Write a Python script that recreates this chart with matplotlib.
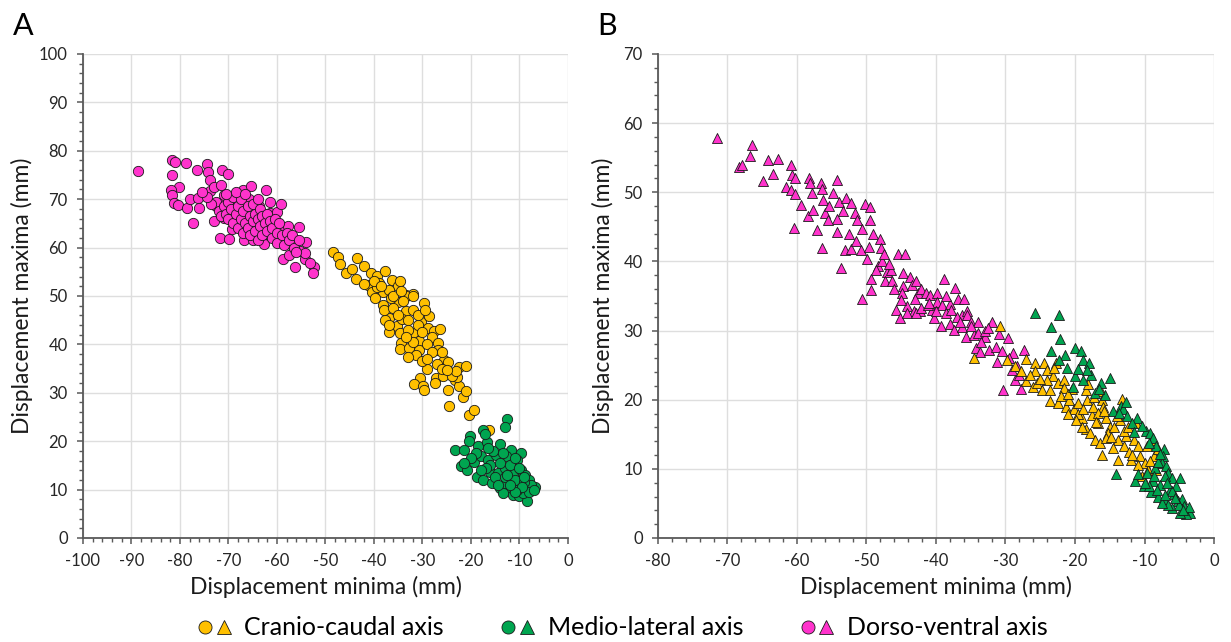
import numpy as np
import matplotlib.pyplot as plt
from matplotlib.lines import Line2D
from matplotlib.legend_handler import HandlerTuple
from matplotlib.ticker import MultipleLocator

plt.rcParams['font.family'] = ['Lato', 'DejaVu Sans']
plt.rcParams['axes.unicode_minus'] = False

# colours (Excel-like)
c_cc = '#FFC000'   # cranio-caudal
c_ml = '#00A550'   # medio-lateral
c_dv = '#FF33CC'   # dorso-ventral

legend_labels = ['Cranio-caudal axis', 'Medio-lateral axis', 'Dorso-ventral axis']

# ---- Panel A: circles [minima, maxima] ----
dv_a = np.array([
    [-88.6, 75.8], [-81.7, 78.1], [-81.0, 77.7], [-78.7, 77.4], [-81.7, 74.9], [-76.5, 76.0],
    [-74.5, 77.2], [-74.2, 75.7], [-71.4, 76.0], [-70.0, 75.2], [-73.9, 74.0], [-80.1, 72.5],
    [-81.8, 71.8], [-81.7, 70.9], [-81.3, 69.3], [-80.4, 68.7], [-78.5, 68.1], [-78.0, 70.0],
    [-76.3, 70.2], [-76.1, 68.1], [-77.3, 65.0], [-73.9, 71.6], [-72.6, 68.6], [-73.0, 65.5],
    [-71.8, 69.3], [-71.7, 62.0], [-69.8, 61.8], [-71.0, 70.9], [-70.9, 66.1], [-69.4, 67.1],
    [-69.2, 63.9], [-68.2, 69.2], [-67.1, 71.9], [-66.6, 66.1], [-66.9, 61.6], [-65.8, 70.0],
    [-65.4, 72.7], [-65.0, 61.6], [-64.1, 64.2], [-63.8, 68.5], [-62.7, 60.8], [-62.3, 71.9],
    [-62.1, 62.9], [-61.5, 67.2], [-60.7, 65.0], [-60.0, 67.3], [-59.1, 69.1], [-59.5, 64.9],
    [-58.7, 64.3], [-58.3, 62.2], [-57.7, 64.4], [-58.7, 57.6], [-57.1, 60.8], [-57.5, 58.4],
    [-56.3, 56.0], [-55.4, 64.3], [-55.3, 59.2], [-54.2, 57.7], [-54.1, 61.2], [-54.2, 58.8],
    [-52.3, 56.0], [-52.6, 54.8], [-53.2, 56.8],
    [-72.5, 69.5], [-72.0, 67.5], [-71.5, 66.5], [-71.0, 68.5], [-70.5, 67.0], [-70.0, 69.5],
    [-70.0, 66.0], [-69.5, 68.0], [-69.0, 70.5], [-69.0, 65.0], [-68.5, 67.0], [-68.0, 68.5],
    [-68.0, 64.0], [-67.5, 66.0], [-67.5, 70.0], [-67.0, 67.5], [-67.0, 63.0], [-66.5, 65.0],
    [-66.0, 68.5], [-66.0, 64.0], [-65.5, 66.5], [-65.5, 62.5], [-65.0, 69.0], [-65.0, 65.5],
    [-64.5, 67.0], [-64.5, 63.5], [-64.0, 66.0], [-64.0, 61.5], [-63.5, 68.0], [-63.5, 64.5],
    [-63.0, 66.5], [-63.0, 62.5], [-62.5, 65.0], [-62.0, 67.0], [-62.0, 63.5], [-61.5, 65.5],
    [-61.0, 62.0], [-61.0, 64.0], [-60.5, 66.0], [-60.0, 63.0], [-60.0, 61.0], [-59.5, 65.0],
    [-59.0, 62.5], [-58.5, 60.5], [-58.0, 63.0], [-57.5, 61.5], [-57.0, 62.5], [-56.5, 60.0],
    [-56.0, 59.0], [-55.5, 61.5], [-68.5, 71.5], [-70.5, 71.0], [-66.5, 71.0], [-64.0, 70.0],
    [-61.5, 69.5], [-73.5, 69.0], [-74.5, 70.5], [-75.5, 71.5], [-73.0, 72.5], [-71.5, 73.0],
])

cc_a = np.array([
    [-48.4, 59.0], [-47.4, 58.1], [-47.0, 56.7], [-45.8, 54.8], [-44.6, 55.5], [-43.4, 57.9],
    [-42.0, 56.2], [-43.8, 53.5], [-41.2, 52.2], [-40.7, 54.8], [-39.4, 54.2], [-37.8, 55.1],
    [-39.0, 52.7], [-36.3, 53.4], [-35.1, 52.0], [-34.7, 53.1], [-40.5, 50.8], [-38.2, 50.8],
    [-33.5, 50.2], [-31.9, 50.5], [-39.4, 51.9], [-37.0, 51.2], [-33.5, 50.0], [-31.9, 49.9],
    [-29.7, 48.5], [-39.8, 49.5], [-38.2, 48.1], [-35.0, 48.8], [-33.5, 46.8], [-36.9, 45.4],
    [-35.3, 43.7], [-34.2, 45.3], [-37.8, 45.0], [-36.8, 42.5], [-34.7, 42.3], [-31.9, 42.3],
    [-30.3, 44.7], [-28.6, 45.8], [-28.9, 43.4], [-27.6, 42.7], [-26.4, 43.1], [-34.5, 40.3],
    [-34.7, 39.1], [-32.7, 39.3], [-30.7, 40.6], [-30.7, 38.9], [-31.3, 37.8], [-32.9, 37.4],
    [-28.0, 41.6], [-26.7, 40.3], [-26.7, 38.9], [-25.5, 36.8], [-24.7, 36.4], [-22.5, 35.3],
    [-21.1, 35.6], [-29.0, 34.9], [-30.5, 33.0], [-31.8, 31.9], [-29.9, 31.4], [-29.7, 30.6],
    [-27.2, 33.1], [-27.4, 32.0], [-25.7, 33.4], [-24.7, 30.6], [-23.2, 32.6], [-22.4, 31.4],
    [-21.6, 29.2], [-21.0, 30.4], [-24.6, 27.2], [-20.4, 25.5], [-19.4, 26.5], [-16.2, 22.3],
    [-22.8, 33.3], [-24.0, 34.0],
    [-38.0, 47.0], [-36.0, 47.5], [-35.0, 46.0], [-33.0, 45.0], [-32.0, 47.0], [-31.0, 44.0],
    [-30.0, 42.5], [-33.0, 43.0], [-32.0, 40.5], [-29.0, 40.0], [-28.0, 38.5], [-30.0, 36.5],
    [-27.0, 36.0], [-26.0, 35.0], [-24.0, 33.5], [-23.0, 34.5], [-36.5, 49.5], [-34.0, 49.0],
    [-31.0, 46.0], [-29.5, 47.0], [-37.0, 44.0], [-33.5, 41.5], [-29.0, 37.0], [-26.0, 38.5],
    [-25.0, 34.8], [-42.0, 52.5], [-40.0, 53.0], [-38.5, 52.0], [-36.0, 50.0], [-34.5, 51.0],
])

ml_a = np.array([
    [-12.6, 24.6], [-13.0, 23.0], [-17.6, 22.3], [-20.2, 21.0], [-20.4, 20.0], [-23.3, 18.2],
    [-21.4, 18.2], [-18.6, 19.0], [-16.8, 19.8], [-14.1, 19.5], [-11.7, 18.2], [-9.6, 17.6],
    [-22.0, 14.8], [-20.8, 14.1], [-19.4, 15.8], [-18.0, 16.9], [-16.4, 16.2], [-14.9, 17.2],
    [-12.7, 16.9], [-10.5, 16.2], [-18.8, 12.7], [-17.6, 12.0], [-16.0, 13.7], [-14.4, 13.4],
    [-12.9, 14.4], [-11.2, 13.7], [-9.7, 14.1], [-8.8, 13.1], [-15.6, 11.4], [-14.1, 10.3],
    [-12.9, 11.4], [-11.7, 10.3], [-10.1, 11.7], [-8.1, 12.0], [-6.9, 10.6], [-7.7, 11.0],
    [-13.3, 9.3], [-11.3, 8.9], [-10.1, 8.6], [-8.5, 7.6], [-9.3, 9.3],
    [-16.0, 15.0], [-14.0, 15.5], [-12.0, 15.0], [-10.0, 14.5], [-15.0, 12.5], [-13.0, 12.5],
    [-11.0, 12.0], [-9.0, 11.5], [-17.0, 14.5], [-19.0, 17.5], [-15.5, 18.0], [-12.5, 13.0],
    [-10.5, 10.0], [-8.0, 9.5], [-9.5, 10.5], [-14.5, 11.0], [-7.0, 10.0], [-11.0, 9.5],
    [-12.0, 11.0], [-16.5, 18.5], [-20.0, 16.5], [-18.0, 14.0], [-13.5, 17.5], [-11.0, 16.5],
    [-9.0, 12.5], [-17.2, 21.5], [-21.5, 15.5],
])

# ---- Panel B: triangles [minima, maxima] ----
dv_b = np.array([
    [-71.5, 57.8], [-68.4, 53.6], [-67.9, 54.0], [-66.8, 55.2], [-66.5, 56.8], [-64.9, 51.6],
    [-64.1, 54.6], [-63.5, 52.7], [-62.7, 54.8], [-60.8, 53.9], [-60.7, 52.5], [-60.3, 52.0],
    [-61.6, 50.7], [-60.8, 50.3], [-60.3, 49.8], [-60.5, 44.9], [-59.4, 48.2], [-58.3, 52.0],
    [-58.1, 51.3], [-58.4, 46.5], [-57.8, 49.9], [-57.7, 47.5], [-57.1, 44.6], [-56.6, 51.4],
    [-56.4, 50.4], [-56.3, 48.9], [-56.4, 42.0], [-56.0, 47.0], [-55.4, 48.0], [-54.8, 49.9],
    [-54.2, 51.8], [-54.3, 46.1], [-54.2, 44.3], [-53.9, 48.6], [-53.4, 47.3], [-52.9, 49.1],
    [-53.1, 41.6], [-53.6, 39.0], [-52.5, 44.0], [-52.2, 41.8], [-52.2, 48.4], [-51.6, 47.0],
    [-51.3, 46.0], [-50.8, 41.6], [-50.7, 44.7], [-50.2, 48.3], [-49.5, 47.9], [-49.5, 46.0],
    [-49.7, 42.1], [-49.9, 40.3], [-49.0, 43.9], [-49.3, 37.4], [-49.4, 35.9], [-50.7, 34.6],
    [-48.0, 43.2], [-47.9, 42.0], [-48.3, 39.4], [-47.7, 40.0], [-48.6, 38.8], [-47.0, 38.4],
    [-47.4, 37.2], [-46.5, 38.8], [-46.4, 37.2], [-45.4, 41.0], [-44.5, 41.0], [-44.8, 38.3],
    [-44.8, 36.4], [-44.9, 35.5], [-43.8, 37.8], [-43.5, 36.6], [-42.9, 37.1], [-42.6, 35.5],
    [-42.1, 36.0], [-45.8, 33.0], [-44.2, 33.6], [-43.2, 32.8], [-42.3, 32.8], [-41.5, 35.5],
    [-40.9, 35.2], [-40.6, 33.0], [-39.9, 35.5], [-39.8, 34.1], [-39.2, 33.7], [-38.9, 37.4],
    [-38.0, 33.9], [-37.3, 36.2], [-36.9, 34.6], [-36.2, 32.3], [-35.5, 32.8],
    [-45.2, 31.8], [-44.1, 32.5], [-42.9, 32.6], [-42.1, 33.2], [-41.2, 33.7], [-40.3, 31.8],
    [-39.3, 30.7], [-38.0, 31.0], [-37.4, 30.1], [-36.3, 30.5], [-35.5, 32.3], [-34.9, 31.3],
    [-33.9, 31.2], [-35.7, 29.1], [-34.6, 29.3], [-34.0, 29.7], [-34.3, 27.5], [-33.7, 26.9],
    [-32.9, 29.1], [-32.4, 27.2], [-32.0, 31.3], [-31.4, 27.6], [-31.2, 25.4], [-30.3, 21.4],
    [-29.6, 28.9], [-28.9, 26.7], [-27.4, 27.2], [-28.3, 24.8], [-28.6, 22.9], [-27.7, 21.5],
    [-28.0, 23.6], [-29.1, 24.3], [-37.0, 32.0], [-38.5, 32.5], [-33.0, 30.0], [-31.0, 29.5],
    [-36.0, 34.5], [-41.0, 34.0], [-46.0, 36.0], [-47.5, 41.0], [-51.5, 43.0], [-55.5, 46.0],
    [-43.0, 34.5], [-40.0, 32.8], [-38.5, 35.0], [-37.8, 33.0], [-36.5, 31.2], [-35.0, 30.6],
    [-33.5, 28.4], [-32.5, 30.4], [-30.5, 27.0], [-29.5, 26.0], [-46.8, 39.6], [-45.0, 34.4],
])

cc_b = np.array([
    [-34.6, 26.0], [-30.8, 30.6], [-29.8, 25.8], [-28.6, 24.8], [-27.1, 25.9], [-25.7, 25.3],
    [-25.7, 24.1], [-27.7, 24.1], [-27.0, 22.7], [-26.0, 21.9], [-25.4, 22.4], [-24.5, 25.3],
    [-24.1, 24.3], [-22.8, 25.3], [-23.2, 23.4], [-24.8, 21.4], [-23.6, 21.4], [-22.5, 22.4],
    [-21.6, 22.9], [-21.6, 21.7], [-23.6, 19.8], [-22.5, 19.5], [-21.3, 19.0], [-20.8, 20.0],
    [-20.2, 18.6], [-19.6, 19.5], [-19.0, 17.3], [-18.4, 21.4], [-18.1, 22.2], [-18.3, 20.0],
    [-17.6, 17.8], [-17.4, 19.0], [-16.7, 16.6], [-16.2, 21.2], [-16.1, 20.0], [-16.0, 19.0],
    [-16.7, 18.1], [-15.5, 17.3], [-15.0, 16.1], [-18.4, 15.7], [-17.8, 15.2], [-17.1, 14.2],
    [-16.4, 13.7], [-16.1, 12.0], [-15.2, 15.2], [-14.4, 16.1], [-13.3, 20.1], [-13.5, 17.1],
    [-13.8, 14.2], [-13.8, 11.3], [-12.9, 13.3], [-12.6, 14.7], [-12.2, 12.5], [-11.5, 14.2],
    [-11.2, 16.7], [-12.0, 11.3], [-10.9, 13.3], [-10.6, 11.8], [-10.4, 8.9], [-10.0, 10.8],
    [-9.6, 13.3], [-8.9, 14.2], [-8.6, 11.8], [-9.5, 9.9], [-8.1, 12.8], [-8.4, 9.9],
    [-26.5, 23.5], [-24.0, 22.8], [-22.0, 20.5], [-20.5, 21.5], [-19.5, 18.0], [-17.0, 16.8],
    [-15.5, 14.5], [-14.5, 13.0], [-13.0, 15.5], [-11.8, 12.0], [-21.0, 18.0], [-19.0, 16.0],
    [-25.0, 23.0], [-23.0, 24.6], [-21.0, 20.8], [-19.8, 17.0], [-18.8, 18.6], [-17.3, 20.4],
    [-15.8, 18.4], [-14.8, 14.6], [-14.0, 17.6], [-12.4, 16.0], [-11.0, 10.5], [-9.2, 11.2],
])

ml_b = np.array([
    [-25.8, 32.6], [-22.3, 32.3], [-23.5, 30.5], [-22.1, 28.8], [-23.4, 27.0], [-21.5, 26.5],
    [-22.3, 25.8], [-21.2, 24.6], [-20.0, 27.5], [-19.1, 27.0], [-18.8, 25.8], [-20.0, 23.4],
    [-18.0, 25.3], [-17.7, 23.6], [-17.1, 21.0], [-16.2, 22.4], [-14.9, 23.1], [-15.7, 20.7],
    [-14.5, 18.3], [-13.4, 19.1], [-13.1, 18.6], [-12.5, 17.6], [-11.1, 17.3], [-14.1, 9.3],
    [-11.3, 8.2], [-11.0, 9.2], [-10.1, 7.5], [-9.8, 15.5], [-9.2, 15.2], [-8.8, 14.5],
    [-8.3, 13.3], [-7.2, 12.8], [-7.3, 11.8], [-7.5, 10.8], [-6.9, 10.4], [-6.6, 9.4],
    [-6.1, 8.7], [-8.8, 8.2], [-7.8, 7.7], [-9.0, 6.7], [-8.0, 6.0], [-7.2, 5.6],
    [-6.4, 7.0], [-5.8, 6.3], [-4.9, 8.7], [-5.2, 5.3], [-4.6, 5.6], [-4.3, 4.6],
    [-3.8, 4.1], [-3.4, 3.6], [-4.0, 3.4], [-4.9, 3.6], [-6.1, 4.3], [-6.6, 4.8],
    [-7.5, 5.1], [-9.3, 7.5], [-8.5, 10.1], [-9.6, 9.4], [-10.4, 16.2], [-11.8, 16.7],
    [-12.7, 19.6], [-13.7, 18.1], [-18.3, 24.3], [-18.9, 22.9], [-20.3, 21.9],
    [-5.5, 7.5], [-7.0, 9.0], [-8.0, 11.0], [-6.0, 6.8], [-3.6, 4.5], [-5.0, 4.8],
    [-10.0, 8.0], [-8.2, 7.0], [-7.0, 6.2], [-5.6, 5.8], [-4.4, 4.0], [-6.8, 8.0],
    [-8.6, 9.0], [-7.8, 12.2], [-9.4, 13.8], [-11.5, 15.4], [-16.6, 21.6], [-19.5, 24.4],
])

fig = plt.figure(figsize=(12.31, 6.42), dpi=100)
ax_a = fig.add_axes([0.0674, 0.162, 0.394, 0.754])
ax_b = fig.add_axes([0.5345, 0.162, 0.4517, 0.754])

mk = dict(edgecolors='#1a1a1a', linewidths=0.6, zorder=3)
ax_a.scatter(dv_a[:, 0], dv_a[:, 1], s=55, marker='o', color=c_dv, **mk)
ax_a.scatter(cc_a[:, 0], cc_a[:, 1], s=55, marker='o', color=c_cc, **mk)
ax_a.scatter(ml_a[:, 0], ml_a[:, 1], s=55, marker='o', color=c_ml, **mk)

ax_b.scatter(dv_b[:, 0], dv_b[:, 1], s=52, marker='^', color=c_dv, **mk)
ax_b.scatter(cc_b[:, 0], cc_b[:, 1], s=52, marker='^', color=c_cc, **mk)
ax_b.scatter(ml_b[:, 0], ml_b[:, 1], s=52, marker='^', color=c_ml, **mk)

for ax, xlim, ylim, ypad in [(ax_a, (-100, 0), (0, 100), 4), (ax_b, (-80, 0), (0, 70), 7)]:
    ax.set_xlim(xlim)
    ax.set_ylim(ylim)
    ax.xaxis.set_major_locator(MultipleLocator(10))
    ax.yaxis.set_major_locator(MultipleLocator(10))
    ax.xaxis.set_minor_locator(MultipleLocator(2))
    ax.yaxis.set_minor_locator(MultipleLocator(2))
    ax.grid(which='major', color='#dedede', linewidth=1.0, zorder=0)
    ax.set_axisbelow(True)
    for side in ['top', 'right']:
        ax.spines[side].set_visible(False)
    for side in ['left', 'bottom']:
        ax.spines[side].set_color('#595959')
        ax.spines[side].set_linewidth(1.3)
    ax.tick_params(which='major', length=4, width=1.1, color='#595959', labelsize=12,
                   labelcolor='#262626', pad=7)
    ax.tick_params(which='minor', length=3, width=1.0, color='#595959')
    ax.set_xlabel('Displacement minima (mm)', fontsize=16.5, labelpad=5, color='#1a1a1a')
    ax.set_ylabel('Displacement maxima (mm)', fontsize=16.5, labelpad=ypad, color='#1a1a1a')

fig.text(0.0105, 0.9455, 'A', fontsize=22, va='baseline')
fig.text(0.4855, 0.9455, 'B', fontsize=22, va='baseline')

def pair(color):
    return (Line2D([], [], marker='o', linestyle='none', markersize=9.4,
                   markerfacecolor=color, markeredgecolor='#1a1a1a', markeredgewidth=0.6),
            Line2D([], [], marker='^', linestyle='none', markersize=10.5,
                   markerfacecolor=color, markeredgecolor='#1a1a1a', markeredgewidth=0.6))

fig.legend([pair(c_cc), pair(c_ml), pair(c_dv)], legend_labels,
           handler_map={tuple: HandlerTuple(ndivide=None, pad=0)},
           loc='center', bbox_to_anchor=(0.505, 0.022), ncol=3, frameon=False,
           fontsize=18, handlelength=1.5, handletextpad=0.45, columnspacing=2.2,
           borderpad=0, borderaxespad=0)

plt.savefig('out.png', dpi=100)
